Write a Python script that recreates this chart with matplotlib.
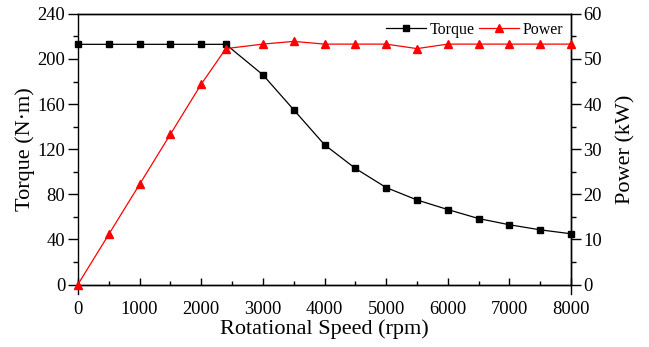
import numpy as np
import matplotlib.pyplot as plt
from matplotlib.ticker import MultipleLocator

plt.rcParams['font.family'] = ['Liberation Serif', 'DejaVu Serif']

speed = [0, 500, 1000, 1500, 2000, 2400, 3000, 3500, 4000, 4500, 5000, 5500, 6000, 6500, 7000, 7500, 8000]
torque = [213, 213, 213, 213, 213, 213, 186, 155, 124, 103, 86, 75, 66.5, 58.5, 53, 48.5, 45]
power = [0, 11.1, 22.2, 33.3, 44.4, 52.3, 53.3, 53.9, 53.3, 53.3, 53.3, 52.3, 53.3, 53.3, 53.3, 53.3, 53.3]

fig = plt.figure(figsize=(6.49, 3.47), dpi=100)
ax = fig.add_axes([0.12, 0.18, 0.76, 0.78])
ax2 = ax.twinx()

l1, = ax.plot(speed, torque, '-s', color='black', lw=0.9, ms=5, label='Torque', clip_on=False, zorder=3)
l2, = ax2.plot(speed, power, '-^', color='red', lw=0.9, ms=6, label='Power', clip_on=False, zorder=3)

ax.set_xlim(0, 8000)
ax.set_ylim(0, 240)
ax2.set_ylim(0, 60)
ax.xaxis.set_major_locator(MultipleLocator(1000))
ax.xaxis.set_minor_locator(MultipleLocator(500))
ax.yaxis.set_major_locator(MultipleLocator(40))
ax.yaxis.set_minor_locator(MultipleLocator(20))
ax2.yaxis.set_major_locator(MultipleLocator(10))
ax2.yaxis.set_minor_locator(MultipleLocator(5))

# y ticks out, x ticks in
for a in (ax, ax2):
    a.tick_params(axis='y', which='major', direction='out', length=7, width=1, labelsize=13.3, pad=2)
    a.tick_params(axis='y', which='minor', direction='out', length=3.5, width=1)
ax.tick_params(axis='x', which='major', direction='in', length=5, width=1, labelsize=13.3, pad=12)
ax.tick_params(axis='x', which='minor', direction='in', length=3, width=1)

# side spines run a little below the x axis
ax2.spines['left'].set_visible(False)
ax.spines['left'].set_bounds(-8, 240)
ax2.spines['right'].set_bounds(-2, 60)
for a in (ax, ax2):
    for s in a.spines.values():
        s.set_linewidth(1)

ax.set_xlabel('Rotational Speed (rpm)', fontsize=16, labelpad=1)
ax.set_ylabel('Torque (N·m)', fontsize=16, labelpad=2)
ax2.set_ylabel('Power (kW)', fontsize=16, labelpad=10)

ax.legend(handles=[l1, l2], loc='upper right', ncol=2, frameon=False, fontsize=11.5,
          handlelength=2.5, columnspacing=0.3, handletextpad=0.2,
          borderaxespad=0.1)

plt.savefig('out.png', dpi=100)
